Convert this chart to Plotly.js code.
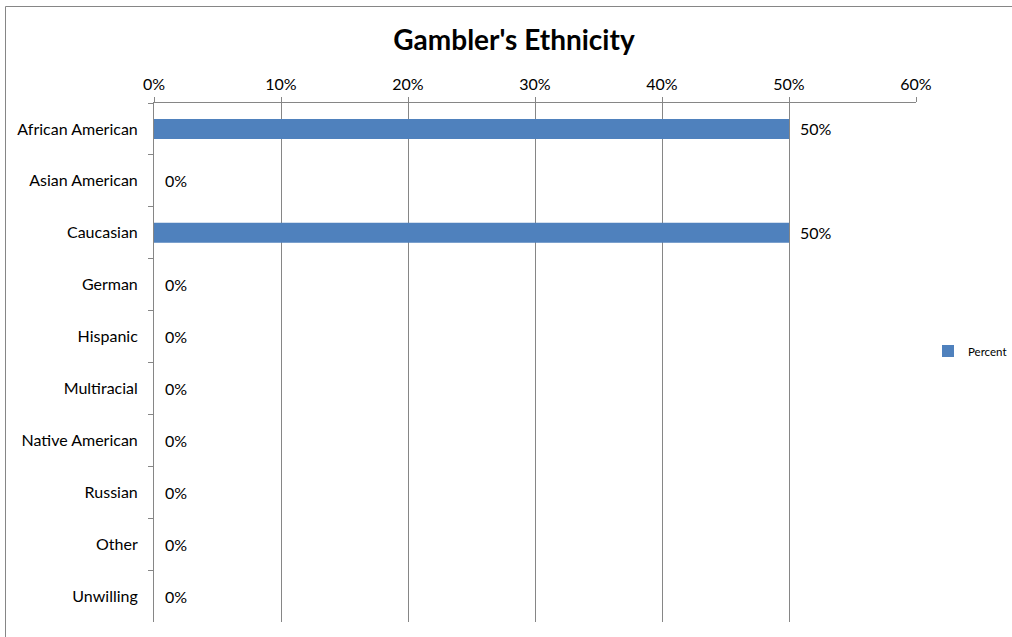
<!DOCTYPE html>
<html>
<head>
<meta charset="utf-8">
<script src="https://cdn.plot.ly/plotly-3.0.1.min.js"></script>
<style>html,body{margin:0;padding:0;background:#fff;}#chart{width:1012px;height:637px;}</style>
</head>
<body>
<div id="chart"></div>
<script>
const categories = ["African American","Asian American","Caucasian","German","Hispanic","Multiracial","Native American","Russian","Other","Unwilling"];
const percentValues = [0.5,0,0.5,0,0,0,0,0,0,0];
const xTickValues = [0,0.1,0.2,0.3,0.4,0.5,0.6];
const xTickLabels = ["0%","10%","20%","30%","40%","50%","60%"];
const seriesName = "Percent";

const W = 1012, H = 637;
const L = 154, R = 96, T = 103, B = 15;
const pw = W - L - R, ph = H - T - B;
const FONT = "Lato, 'Liberation Sans', sans-serif";

const trace = {
  type: "bar",
  orientation: "h",
  name: seriesName,
  x: percentValues,
  y: categories,
  marker: {color: "#4F81BD", line: {width: 0}},
  hoverinfo: "x+y",
  showlegend: true
};

const annotations = categories.map((c, i) => ({
  x: percentValues[i], y: c, xref: "x", yref: "y",
  text: Math.round(percentValues[i] * 100) + "%",
  showarrow: false, xanchor: "left", yanchor: "middle", xshift: 9,
  font: {family: FONT, size: 16, color: "#000"}
}));

const layout = {
  width: W, height: H,
  margin: {l: L, r: R, t: T, b: B, pad: 0, autoexpand: false},
  paper_bgcolor: "#fff", plot_bgcolor: "#fff",
  font: {family: FONT, size: 16, color: "#000"},
  title: {text: "<b>Gambler's Ethnicity</b>", font: {family: FONT, size: 28, color: "#000"},
          x: 514 / W, xref: "container", xanchor: "center", y: 1 - 40 / H, yref: "container", yanchor: "middle"},
  bargap: 0.615,
  xaxis: {
    side: "top", range: [0, 0.6], tickvals: xTickValues, ticktext: xTickLabels,
    showgrid: true, gridcolor: "#868686", gridwidth: 1, zeroline: false,
    showline: true, linecolor: "#868686", linewidth: 1,
    ticks: "outside", ticklen: 5, tickcolor: "#868686", ticklabelstandoff: 1,
    tickfont: {family: FONT, size: 16, color: "#000"}, fixedrange: true, automargin: false
  },
  yaxis: {
    type: "category", autorange: "reversed",
    showgrid: false, zeroline: false,
    showline: true, linecolor: "#868686", linewidth: 1,
    ticks: "outside", ticklen: 5, tickcolor: "#868686", tickson: "boundaries",
    ticklabelstandoff: 12,
    tickfont: {family: FONT, size: 16, color: "#000"}, fixedrange: true, automargin: false
  },
  legend: {x: (928 - L) / pw, xanchor: "left", y: 1 - (351 - T) / ph, yanchor: "middle",
           font: {family: FONT, size: 11.5, color: "#000"}, itemwidth: 30, bgcolor: "rgba(0,0,0,0)"},
  annotations: annotations,
  shapes: [{
    type: "rect", xref: "paper", yref: "paper",
    x0: (5.5 - L) / pw, x1: (1020 - L) / pw,
    y0: -(650 - (H - B)) / ph, y1: 1 + (T - 6.5) / ph,
    line: {color: "#868686", width: 1}, fillcolor: "rgba(0,0,0,0)", layer: "below"
  }]
};

Plotly.newPlot("chart", [trace], layout, {displayModeBar: false});
</script>
</body>
</html>
